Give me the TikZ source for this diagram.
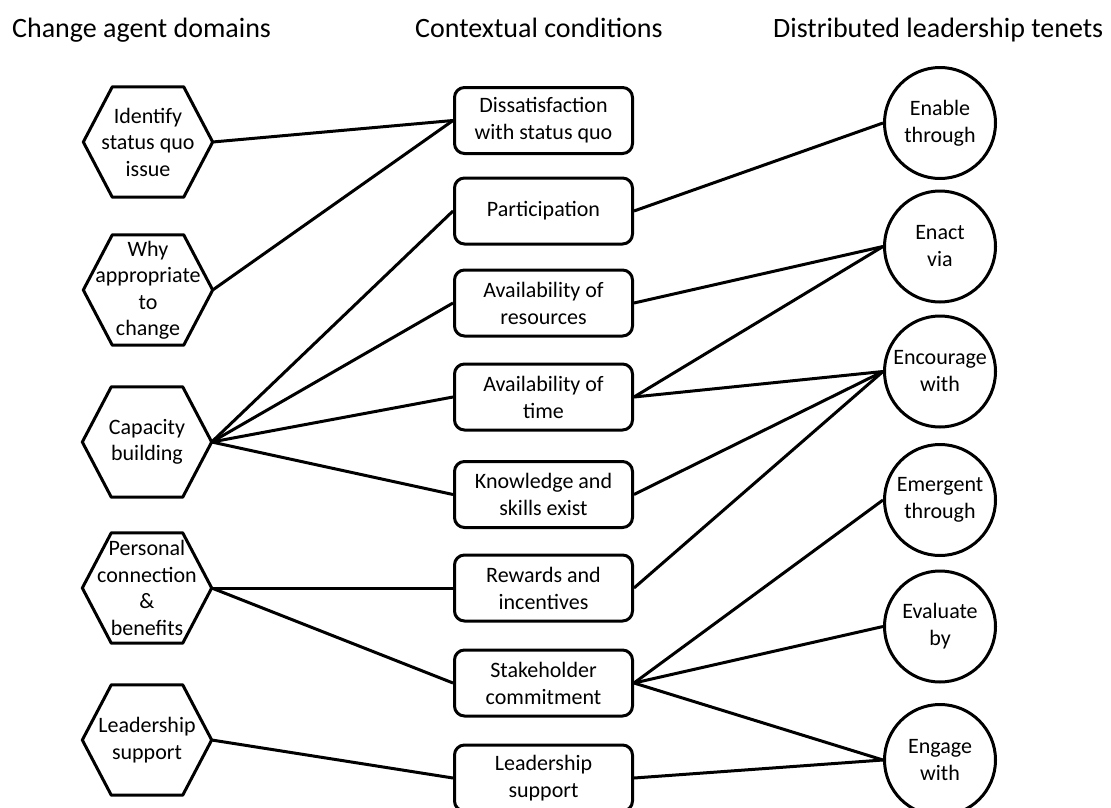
\documentclass[tikz,border=0pt]{standalone}
\usepackage{fontspec}
\setmainfont{Carlito}
\usetikzlibrary{positioning}
\tikzset{
  border/.style={line width=3pt, line join=round},
  link/.style={line width=3pt},
  header/.style={font=\fontsize{28}{33}\selectfont, anchor=base west, inner sep=0pt},
  hexbox/.style={minimum width=129pt, minimum height=110pt, inner sep=0pt, align=center, font=\fontsize{22}{26.5}\selectfont},
  condbox/.style={border, draw, rounded corners=10pt, minimum width=178pt, minimum height=66pt, inner sep=0pt, align=center, font=\fontsize{22}{27}\selectfont},
  tenet/.style={border, draw, circle, minimum size=111pt, inner sep=0pt, align=center, font=\fontsize{22}{27}\selectfont}
}
\begin{document}
\begin{tikzpicture}[x=1pt, y=-1pt]
\useasboundingbox (0,0) rectangle (1111,808);
% headers
\node[header] (t1) at (12,38) {Change agent domains};
\node[header] (t2) at (415,38) {Contextual conditions};
\node[header] (t3) at (773,38) {Distributed leadership tenets};
% hexagons
\node[hexbox] (h1) at (148,142) {Identify\\status quo\\issue};
\node[hexbox] (h2) at (148,290) {Why\\appropriate\\to\\change};
\node[hexbox] (h3) at (147,442) {Capacity\\building};
\node[hexbox] (h4) at (147,588) {Personal\\connection\\\&\\benefits};
\node[hexbox] (h5) at (147,740) {Leadership\\support};
\foreach \h in {h1,h2,h3,h4,h5}
  \draw[border] (\h.west) -- ([xshift=29pt]\h.north west) -- ([xshift=-29pt]\h.north east)
    -- (\h.east) -- ([xshift=-29pt]\h.south east) -- ([xshift=29pt]\h.south west) -- cycle;
% condition boxes
\node[condbox] (b1) at (543.5,120.5) {Dissatisfaction\\with status quo};
\node[condbox] (b2) at (543.5,211) {Participation};
\node[condbox] (b3) at (543.5,303) {Availability of\\resources};
\node[condbox] (b4) at (543.5,397) {Availability of\\time};
\node[condbox] (b5) at (543.5,494.5) {Knowledge and\\skills exist};
\node[condbox] (b6) at (543.5,588) {Rewards and\\incentives};
\node[condbox] (b7) at (543.5,683) {Stakeholder\\commitment};
\node[condbox] (b8) at (543.5,778) {Leadership\\support};
% tenets
\node[tenet] (c1) at (940,123) {Enable\\through};
\node[tenet] (c2) at (940,246.5) {Enact\\via};
\node[tenet] (c3) at (940,371.5) {Encourage\\with};
\node[tenet] (c4) at (940,500) {Emergent\\through};
\node[tenet] (c5) at (940,626.5) {Evaluate\\by};
\node[tenet] (c6) at (940,760) {Engage\\with};
% connectors left-middle
\draw[link] (h1.east) -- (b1.west);
\draw[link] (h2.east) -- (b1.west);
\draw[link] (h3.east) -- (b2.west);
\draw[link] (h3.east) -- (b3.west);
\draw[link] (h3.east) -- (b4.west);
\draw[link] (h3.east) -- (b5.west);
\draw[link] (h4.east) -- (b6.west);
\draw[link] (h4.east) -- (b7.west);
\draw[link] (h5.east) -- (b8.west);
% connectors middle-right
\draw[link] (b2.east) -- (c1.west);
\draw[link] (b3.east) -- (c2.west);
\draw[link] (b4.east) -- (c2.west);
\draw[link] (b4.east) -- (c3.west);
\draw[link] (b5.east) -- (c3.west);
\draw[link] (b6.east) -- (c3.west);
\draw[link] (b7.east) -- (c4.west);
\draw[link] (b7.east) -- (c5.west);
\draw[link] (b7.east) -- (c6.west);
\draw[link] (b8.east) -- (c6.west);
\end{tikzpicture}
\end{document}
